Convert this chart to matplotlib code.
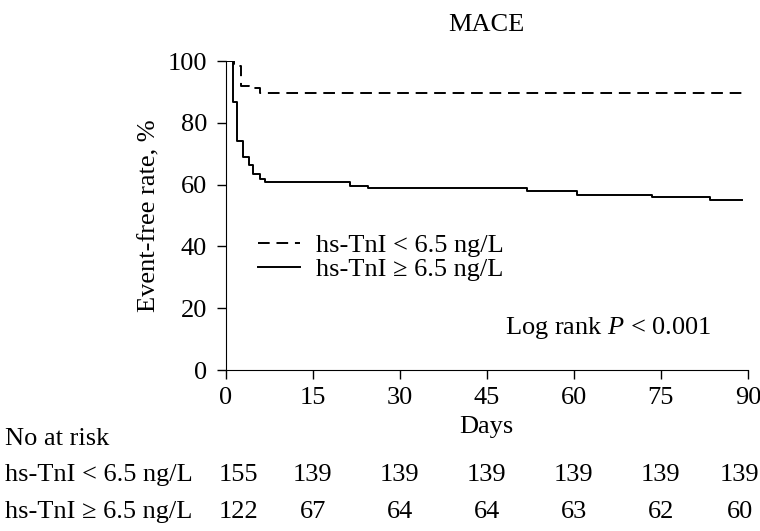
import numpy as np
import matplotlib.pyplot as plt
import matplotlib.transforms as mtransforms

plt.rcParams['font.family'] = ['Liberation Serif', 'DejaVu Serif']
plt.rcParams['mathtext.fontset'] = 'custom'
plt.rcParams['mathtext.rm'] = 'Liberation Serif'
plt.rcParams['mathtext.it'] = 'Liberation Serif:italic'

# Kaplan-Meier step data (day, event-free %)
low_days = [0, 1.4, 2.7, 4.0, 5.9, 89]
low_rate = [100, 98.4, 91.8, 91.2, 89.7, 89.7]
high_days = [0, 1.3, 2.0, 2.9, 4.0, 4.7, 5.9, 6.7, 21.5, 24.5, 52, 60.5, 73.5, 83.5, 89]
high_rate = [100, 86.8, 74.2, 69.0, 66.3, 63.5, 61.9, 60.8, 59.7, 59.0, 57.8, 56.7, 56.0, 55.2, 55.2]

risk_days = [0, 15, 30, 45, 60, 75, 90]
risk_low = [155, 139, 139, 139, 139, 139, 139]
risk_high = [122, 67, 64, 64, 63, 62, 60]
label_low = "hs-TnI < 6.5 ng/L"
label_high = "hs-TnI \u2265 6.5 ng/L"

fs = 19

fig = plt.figure(figsize=(7.6, 5.31), dpi=100)
ax = fig.add_axes([0.297, 0.303, 0.687, 0.582])

ax.step(low_days, low_rate, where='post', color='black', lw=1.4,
        linestyle=(0, (6, 3.5)), label=label_low)
ax.step(high_days, high_rate, where='post', color='black', lw=1.4,
        label=label_high)

ax.set_xlim(0, 90)
ax.set_ylim(0, 100)
ax.set_xticks(risk_days)
ax.set_yticks(range(0, 101, 20))
ax.spines['top'].set_visible(False)
ax.spines['right'].set_visible(False)
ax.tick_params(direction='out', length=6.5, width=1, labelsize=fs, pad=7)
ax.tick_params(axis='x', pad=5.5)
ax.set_xlabel("Days", fontsize=fs, labelpad=5)
ax.set_ylabel("Event-free rate, %", fontsize=fs, labelpad=5)
ax.set_title("MACE", fontsize=fs, pad=22)

ax.legend(loc='center left', bbox_to_anchor=(0.061, 0.365), frameon=False,
          fontsize=fs, handlelength=1.6, handletextpad=0.6, labelspacing=0.0,
          borderaxespad=0, borderpad=0)
ax.text(0.931, 0.136, "Log rank $\\it{P}$ < 0.001", transform=ax.transAxes,
        ha='right', va='center', fontsize=fs)

# numbers at risk table
trans = mtransforms.blended_transform_factory(ax.transData, fig.transFigure)
fig.text(0.006, 0.162, "No at risk", fontsize=fs, va='baseline', ha='left')
fig.text(0.006, 0.094, label_low, fontsize=fs, va='baseline', ha='left')
fig.text(0.006, 0.024, label_high, fontsize=fs, va='baseline', ha='left')
for i, d in enumerate(risk_days):
    xd = d
    if i == 0:
        xd = d + 2.2
    elif i == len(risk_days) - 1:
        xd = d - 1.4
    ax.text(xd, 0.094, str(risk_low[i]), transform=trans, fontsize=fs,
            ha='center', va='baseline', clip_on=False)
    ax.text(xd, 0.024, str(risk_high[i]), transform=trans, fontsize=fs,
            ha='center', va='baseline', clip_on=False)

fig.savefig("out.png", dpi=100)
